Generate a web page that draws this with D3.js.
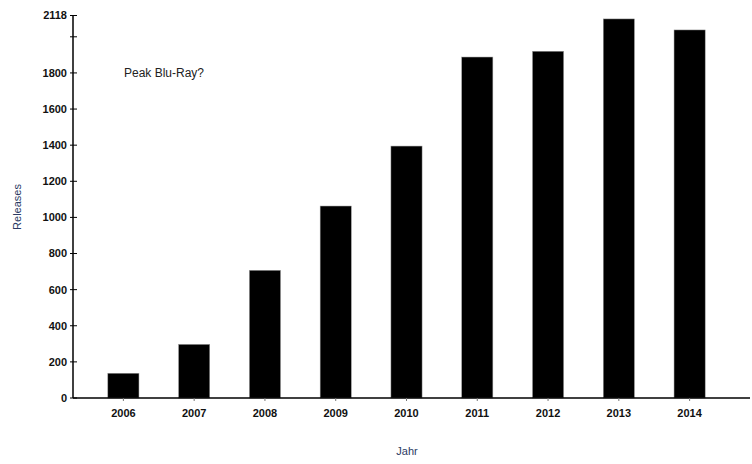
<!DOCTYPE html>
<html>
<head>
<meta charset="utf-8">
<script src="https://cdn.jsdelivr.net/npm/d3@7"></script>
<style>
  body { margin: 0; background: #fff; }
  text { font-family: "Liberation Sans", Arial, Helvetica, sans-serif; }
</style>
</head>
<body>
<div id="chart"></div>
<script>
var years = ["2006", "2007", "2008", "2009", "2010", "2011", "2012", "2013", "2014"];
var releases = [137, 297, 707, 1063, 1395, 1888, 1920, 2099, 2038];
var yTickValues = [0, 200, 400, 600, 800, 1000, 1200, 1400, 1600, 1800, 2000, 2118];
var yTickLabels = ["0", "200", "400", "600", "800", "1000", "1200", "1400", "1600", "1800", "", "2118"];

const width = 752;
const height = 464;
const axisX = 73;
const axisY = 398;

var svg = d3.select("#chart")
  .append("svg")
  .attr("width", width)
  .attr("height", height);

var x = d3.scaleBand()
  .domain(years)
  .range([88, 725])
  .paddingInner(0.56)
  .paddingOuter(0.28);

var y = d3.scaleLinear()
  .domain([0, 2118])
  .range([axisY, 15.5]);

// bars
svg.selectAll("rect.bar")
  .data(years)
  .enter()
  .append("rect")
  .attr("class", "bar")
  .attr("x", d => x(d))
  .attr("y", (d, i) => y(releases[i]))
  .attr("width", x.bandwidth())
  .attr("height", (d, i) => axisY - y(releases[i]))
  .attr("fill", "#000")
  .attr("stroke", "#999")
  .attr("stroke-width", 0.5);

// x axis
var xAxis = svg.append("g")
  .attr("transform", `translate(0,${axisY})`);
xAxis.append("line")
  .attr("x1", axisX)
  .attr("x2", 750)
  .attr("stroke", "#000")
  .attr("stroke-width", 1.5);
xAxis.selectAll("line.tick")
  .data(years)
  .enter()
  .append("line")
  .attr("class", "tick")
  .attr("x1", d => x(d) + x.bandwidth() / 2)
  .attr("x2", d => x(d) + x.bandwidth() / 2)
  .attr("y1", 0)
  .attr("y2", 3)
  .attr("stroke", "#777");
xAxis.selectAll("text")
  .data(years)
  .enter()
  .append("text")
  .attr("x", d => x(d) + x.bandwidth() / 2)
  .attr("y", 19)
  .attr("text-anchor", "middle")
  .attr("font-size", "11px")
  .attr("font-weight", "bold")
  .attr("fill", "#111")
  .text(d => d);

// y axis
var yAxis = svg.append("g")
  .attr("transform", `translate(${axisX},0)`);
yAxis.append("line")
  .attr("y1", y(2118))
  .attr("y2", axisY)
  .attr("stroke", "#000")
  .attr("stroke-width", 1.5);
yAxis.selectAll("line.tick")
  .data(yTickValues)
  .enter()
  .append("line")
  .attr("class", "tick")
  .attr("x1", -3)
  .attr("x2", 4)
  .attr("y1", d => y(d))
  .attr("y2", d => y(d))
  .attr("stroke", "#000");
yAxis.selectAll("text")
  .data(yTickValues)
  .enter()
  .append("text")
  .attr("x", -6)
  .attr("y", d => y(d))
  .attr("dy", "0.36em")
  .attr("text-anchor", "end")
  .attr("font-size", "11px")
  .attr("font-weight", "bold")
  .attr("fill", "#111")
  .text((d, i) => yTickLabels[i]);

// axis titles
svg.append("text")
  .attr("transform", "translate(21,207) rotate(-90)")
  .attr("text-anchor", "middle")
  .attr("font-size", "11px")
  .attr("fill", "#2b3a63")
  .text("Releases");

svg.append("text")
  .attr("x", 407)
  .attr("y", 455)
  .attr("text-anchor", "middle")
  .attr("font-size", "11px")
  .attr("fill", "#2b3a63")
  .text("Jahr");

svg.append("text")
  .attr("x", 124)
  .attr("y", 77)
  .attr("font-size", "12px")
  .attr("fill", "#222")
  .text("Peak Blu-Ray?");
</script>
</body>
</html>
